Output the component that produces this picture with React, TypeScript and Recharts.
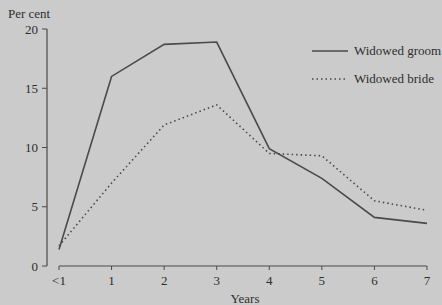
import { LineChart, Line, XAxis, YAxis, ReferenceLine, Legend, Label } from 'recharts'

const years = ['<1', '1', '2', '3', '4', '5', '6', '7']
const widowedGroom = [1.4, 16.0, 18.7, 18.9, 9.9, 7.4, 4.1, 3.6]
const widowedBride = [1.7, 7.0, 11.9, 13.6, 9.5, 9.3, 5.5, 4.7]
const yTicks = [0, 5, 10, 15, 20]
const seriesNames = ['Widowed groom', 'Widowed bride']

const INK = '#4a4a4a'
const TEXT = '#2e2e2e'
const FONT = '"Liberation Serif", "Times New Roman", serif'

const data = years.map((year, i) => ({
  year,
  groom: widowedGroom[i],
  bride: widowedBride[i],
}))

type LegendEntry = { value: string; payload?: { strokeDasharray?: string } }

const LegendBox = ({ payload }: { payload?: LegendEntry[] }) => {
  if (!payload) return null
  const items = [...payload].sort(
    (a, b) => seriesNames.indexOf(a.value) - seriesNames.indexOf(b.value)
  )
  return (
    <div style={{ fontFamily: FONT, fontSize: 13, color: TEXT }}>
      {items.map((entry, i) => (
        <div key={i} style={{ display: 'flex', alignItems: 'center', height: 15, marginBottom: 13 }}>
          <svg width={42} height={6}>
            <line
              x1={0}
              x2={36}
              y1={3}
              y2={3}
              stroke={INK}
              strokeWidth={1.4}
              strokeDasharray={entry.payload?.strokeDasharray}
            />
          </svg>
          <span style={{ whiteSpace: 'nowrap' }}>{entry.value}</span>
        </div>
      ))}
    </div>
  )
}

export default function App() {
  return (
    <div
      style={{
        position: 'absolute',
        left: 0,
        top: 0,
        width: 442,
        height: 305,
        background: '#cbcbcb',
        overflow: 'hidden',
      }}
    >
      <div
        style={{
          position: 'absolute',
          left: 8,
          top: 6,
          fontFamily: FONT,
          fontSize: 13,
          color: TEXT,
        }}
      >
        Per cent
      </div>
      <LineChart
        width={442}
        height={305}
        data={data}
        margin={{ top: 29, right: 15, bottom: 0, left: 0 }}
        style={{ fontFamily: FONT }}
      >
        <XAxis
          dataKey="year"
          axisLine={false}
          tickLine={{ stroke: INK }}
          tickSize={4}
          tickMargin={6}
          tick={{ fill: TEXT, fontSize: 13 }}
          padding={{ left: 12, right: 0 }}
          height={39}
          interval={0}
        >
          <Label value="Years" position="insideBottom" offset={2} dx={8} fill={TEXT} fontSize={13} />
        </XAxis>
        <YAxis
          domain={[0, 20]}
          ticks={yTicks}
          width={47}
          axisLine={{ stroke: INK, strokeWidth: 1.2 }}
          tickLine={{ stroke: INK }}
          tickSize={5}
          tickMargin={4}
          tick={{ fill: TEXT, fontSize: 13 }}
        />
        <ReferenceLine
          segment={[
            { x: years[0], y: 0 },
            { x: years[years.length - 1], y: 0 },
          ]}
          stroke={INK}
          strokeWidth={1.2}
        />
        <Line
          dataKey="groom"
          name={seriesNames[0]}
          type="linear"
          stroke={INK}
          strokeWidth={1.6}
          dot={false}
          isAnimationActive={false}
        />
        <Line
          dataKey="bride"
          name={seriesNames[1]}
          type="linear"
          stroke={INK}
          strokeWidth={1.6}
          strokeDasharray="1.5 3"
          dot={false}
          isAnimationActive={false}
        />
        <Legend
          layout="horizontal"
          align="center"
          verticalAlign="middle"
          content={<LegendBox />}
          wrapperStyle={{ position: 'absolute', left: 312, top: 43, width: 160 }}
        />
      </LineChart>
    </div>
  )
}
